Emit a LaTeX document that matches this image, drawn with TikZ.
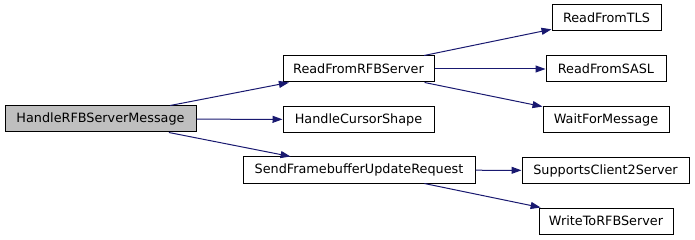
\documentclass[tikz,border=0pt]{standalone}
\usepackage{fontspec}
\setmainfont{DejaVu Sans}
\usetikzlibrary{arrows.meta}
\definecolor{edgeblue}{HTML}{191970}
\definecolor{rootfill}{HTML}{BFBFBF}
\tikzset{
  fn/.style={draw=black, line width=1pt, fill=white, rectangle, inner sep=0pt,
    minimum height=26pt, font=\fontsize{12.8}{14}\selectfont},
  rootfn/.style={fn, fill=rootfill},
  call/.style={draw=edgeblue, line width=1pt,
    -{Triangle[length=10pt,width=7pt]}, edgeblue}
}
\begin{document}
\begin{tikzpicture}[x=1pt,y=-1pt]
  \useasboundingbox (0,0) rectangle (695,240);
  % caller
  \node[rootfn, minimum width=191pt] (root) at (100.5,119) {HandleRFBServerMessage};
  % first level callees
  \node[fn, minimum width=151pt] (rfb) at (358.5,69) {ReadFromRFBServer};
  \node[fn, minimum width=151pt] (cursor) at (358.5,119.5) {HandleCursorShape};
  \node[fn, minimum width=232pt] (send) at (359,170) {SendFramebufferUpdateRequest};
  % second level callees
  \node[fn, minimum width=109pt] (tls) at (606.5,18) {ReadFromTLS};
  \node[fn, minimum width=120pt] (sasl) at (606,69) {ReadFromSASL};
  \node[fn, minimum width=126pt] (wait) at (606,119.5) {WaitForMessage};
  \node[fn, minimum width=167pt] (supp) at (605.5,170.5) {SupportsClient2Server};
  \node[fn, minimum width=134pt] (write) at (606,221) {WriteToRFBServer};
  % call edges
  \draw[call] (root) -- (rfb);
  \draw[call] (root) -- (cursor);
  \draw[call] (root) -- (send);
  \draw[call] (rfb) -- (tls);
  \draw[call] (rfb) -- (sasl);
  \draw[call] (rfb) -- (wait);
  \draw[call] (send) -- (supp);
  \draw[call] (send) -- (write);
\end{tikzpicture}
\end{document}
